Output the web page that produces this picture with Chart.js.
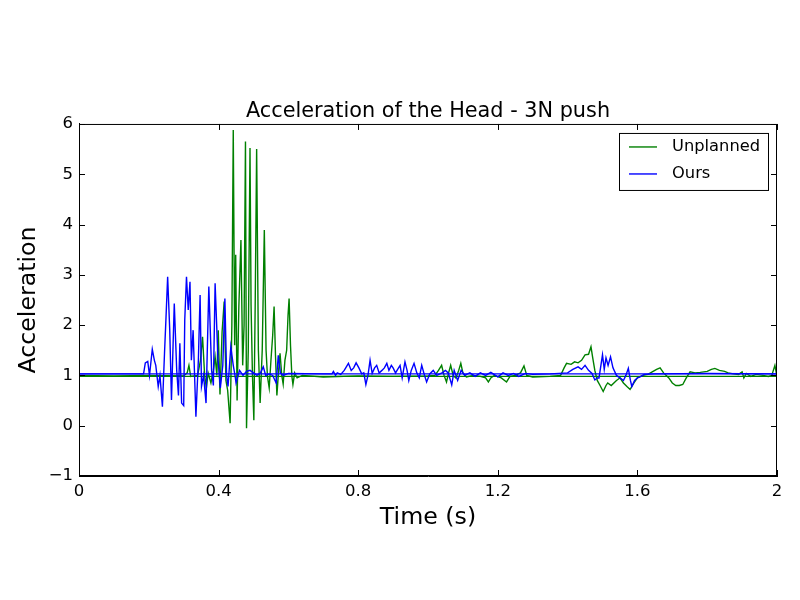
<!DOCTYPE html>
<html lang="en">
<head>
  <meta charset="UTF-8" />
  <title>Acceleration of the Head - 3N push</title>
  <script src="https://cdn.jsdelivr.net/npm/chart.js"></script>
  <style>
    html, body { margin: 0; padding: 0; background: #fff; }
    #wrap { width: 800px; height: 600px; }
  </style>
</head>
<body>
  <div id="wrap"><canvas id="accChart" width="800" height="600"></canvas></div>
  <script>
    // Unplanned (green)
    const unplannedT = [0, 0.1, 0.2, 0.3, 0.31, 0.315, 0.32, 0.34, 0.348, 0.354, 0.36, 0.365, 0.37, 0.378, 0.385,
      0.39, 0.395, 0.399, 0.404, 0.41, 0.416, 0.421, 0.426, 0.433, 0.438, 0.442, 0.446, 0.449, 0.453, 0.458,
      0.464, 0.469, 0.473, 0.477, 0.48, 0.485, 0.49, 0.493, 0.497, 0.501, 0.505, 0.509, 0.514, 0.519, 0.525,
      0.531, 0.536, 0.54, 0.545, 0.55, 0.555, 0.559, 0.563, 0.567, 0.572, 0.576, 0.581, 0.585, 0.59, 0.595,
      0.599, 0.602, 0.606, 0.61, 0.613, 0.618, 0.625, 0.64, 0.7, 0.8, 0.9, 1.0, 1.02, 1.03, 1.039, 1.046,
      1.053, 1.059, 1.065, 1.072, 1.08, 1.088, 1.094, 1.1, 1.11, 1.13, 1.15, 1.165, 1.173, 1.18, 1.19, 1.21,
      1.225, 1.235, 1.25, 1.265, 1.275, 1.283, 1.3, 1.35, 1.38, 1.39, 1.397, 1.41, 1.42, 1.43, 1.44, 1.45,
      1.46, 1.467, 1.472, 1.478, 1.485, 1.493, 1.502, 1.51, 1.515, 1.525, 1.54, 1.55, 1.56, 1.57, 1.579, 1.59,
      1.6, 1.615, 1.63, 1.645, 1.655, 1.665, 1.675, 1.69, 1.7, 1.71, 1.72, 1.73, 1.74, 1.751, 1.765, 1.78,
      1.8, 1.812, 1.822, 1.835, 1.85, 1.86, 1.875, 1.89, 1.9, 1.905, 1.912, 1.925, 1.94, 1.96, 1.975, 1.985,
      1.994, 2.0];
    const unplannedY = [1.0, 0.99, 1.0, 0.99, 1.05, 1.2, 0.98, 1.0, 1.3, 1.77, 1.0, 0.75, 1.05, 0.85, 1.1,
      1.37, 1.0, 1.9, 0.62, 1.87, 2.47, 0.9, 0.7, 0.05, 2.0, 5.88, 1.6, 3.4, 0.5, 2.37,
      3.69, 1.2, 2.0, 5.65, -0.05, 1.5, 5.52, 2.4, 1.0, 0.11, 2.5, 5.5, 1.5, 0.45, 1.5,
      3.89, 1.5, 0.98, 0.75, 1.3, 1.8, 2.37, 1.4, 0.6, 1.1, 1.44, 1.0, 0.83, 1.3, 1.5,
      2.2, 2.53, 1.6, 0.98, 0.82, 1.05, 0.95, 1.0, 0.97, 0.99, 0.98, 0.99, 1.0, 1.1, 1.2, 1.0,
      0.87, 1.05, 1.2, 1.0, 0.95, 1.1, 1.24, 1.05, 0.97, 1.0, 0.98, 0.95, 0.87, 0.95, 1.0, 0.95,
      0.87, 0.98, 1.0, 1.05, 1.19, 1.0, 0.97, 0.98, 1.0, 1.15, 1.24, 1.22, 1.27, 1.25, 1.3, 1.41,
      1.42, 1.57, 1.35, 1.1, 0.9, 0.8, 0.68, 0.8, 0.85, 0.8, 0.9, 0.95, 0.85, 0.78, 0.72, 0.85,
      0.95, 1.0, 1.02, 1.08, 1.12, 1.15, 1.05, 0.95, 0.85, 0.8, 0.8, 0.82, 0.95, 1.07, 1.05, 1.06,
      1.08, 1.12, 1.14, 1.1, 1.08, 1.05, 1.03, 1.02, 1.07, 0.95, 1.04, 0.98, 1.02, 1.0, 0.98, 1.0,
      1.2, 0.97];

    // Ours (blue)
    const oursT = [0, 0.1, 0.185, 0.19, 0.197, 0.202, 0.21, 0.216, 0.22, 0.227, 0.232, 0.239, 0.245, 0.249,
      0.254, 0.26, 0.265, 0.273, 0.28, 0.285, 0.289, 0.294, 0.3, 0.303, 0.308, 0.313, 0.318, 0.322, 0.327,
      0.335, 0.342, 0.347, 0.351, 0.357, 0.364, 0.372, 0.38, 0.385, 0.39, 0.398, 0.405, 0.412, 0.418, 0.423,
      0.427, 0.435, 0.442, 0.447, 0.45, 0.46, 0.47, 0.48, 0.49, 0.5, 0.51, 0.52, 0.528, 0.535, 0.545, 0.555,
      0.565, 0.571, 0.577, 0.585, 0.6, 0.7, 0.725, 0.729, 0.735, 0.74, 0.75, 0.76, 0.772, 0.78, 0.787, 0.794,
      0.802, 0.81, 0.816, 0.822, 0.828, 0.834, 0.84, 0.847, 0.853, 0.86, 0.868, 0.875, 0.882, 0.888, 0.895,
      0.9, 0.907, 0.913, 0.92, 0.926, 0.934, 0.94, 0.945, 0.952, 0.96, 0.968, 0.975, 0.982, 0.99, 0.996,
      1.005, 1.015, 1.025, 1.04, 1.05, 1.058, 1.068, 1.075, 1.085, 1.095, 1.105, 1.12, 1.135, 1.15, 1.165,
      1.18, 1.2, 1.215, 1.23, 1.245, 1.26, 1.28, 1.3, 1.35, 1.4, 1.415, 1.43, 1.44, 1.45, 1.46, 1.47, 1.478,
      1.485, 1.49, 1.5, 1.505, 1.51, 1.516, 1.523, 1.53, 1.54, 1.55, 1.56, 1.567, 1.574, 1.58, 1.584, 1.592,
      1.6, 1.61, 1.62, 1.65, 1.8, 2.0];
    const oursY = [1.03, 1.03, 1.03, 1.25, 1.28, 1.0, 1.52, 1.3, 1.2, 0.78, 1.0, 0.38, 1.44, 2.1,
      2.96, 1.9, 0.51, 2.43, 1.1, 0.6, 1.64, 0.45, 0.4, 2.1, 2.96, 2.3, 2.86, 1.3, 1.9,
      0.18, 1.3, 2.6, 0.78, 1.0, 0.45, 2.77, 1.1, 0.8, 2.83, 1.35, 0.75, 1.2, 2.53, 1.0,
      0.78, 1.57, 1.2, 1.0, 0.85, 1.1, 1.0, 1.08, 1.1, 1.05, 1.0, 1.05, 1.17, 1.0, 1.03, 1.0,
      0.85, 1.4, 1.05, 1.0, 1.04, 1.03, 1.03, 1.08, 1.0, 1.05, 1.02, 1.1, 1.24, 1.1, 1.15, 1.25,
      1.15, 1.03, 1.05, 0.82, 1.0, 1.3, 1.04, 1.15, 1.2, 1.05, 1.1, 1.15, 1.24, 1.1, 1.2,
      1.15, 1.05, 1.12, 1.2, 0.95, 1.27, 1.1, 0.9, 1.1, 1.24, 1.05, 0.95, 1.2, 1.0, 0.87,
      1.03, 1.1, 1.0, 1.05, 1.1, 1.05, 0.81, 1.1, 0.9, 1.1, 1.0, 1.05, 0.98, 1.05, 1.0,
      1.06, 0.97, 1.05, 1.0, 1.04, 0.98, 1.04, 1.02, 1.03, 1.05, 1.12, 1.17, 1.12, 1.2, 1.1, 1.04, 0.91,
      0.95, 0.95, 1.41, 1.12, 1.35, 1.2, 1.37, 1.15, 1.0, 0.95, 0.9, 1.0, 1.14, 0.9, 0.78, 0.9,
      0.95, 0.98, 1.02, 1.03, 1.04, 1.03];

    // steady traces that sit under the oscillations
    const baseT = [0, 2];
    const unplannedBaseY = [0.98, 0.98];
    const oursBaseY = [1.03, 1.03];

    const xTicks = [0, 0.4, 0.8, 1.2, 1.6, 2];
    const yTicks = [-1, 0, 1, 2, 3, 4, 5, 6];

    const legendItems = [
      { label: 'Unplanned', color: '#008000' },
      { label: 'Ours', color: '#0000ff' }
    ];

    function toPoints(ts, ys) {
      return ts.map((t, i) => ({ x: t, y: ys[i] }));
    }

    const frameAndLegend = {
      id: 'frameAndLegend',
      afterDraw(chart) {
        const ctx = chart.ctx;
        const a = chart.chartArea;
        const xs = chart.scales.x, ys = chart.scales.y;
        ctx.save();
        ctx.strokeStyle = '#000';
        ctx.lineWidth = 1;
        ctx.strokeRect(a.left + 0.5, a.top + 0.5, a.right - a.left - 1, a.bottom - a.top - 1);
        // inward ticks on all sides
        ctx.beginPath();
        xTicks.forEach(v => {
          const px = Math.round(xs.getPixelForValue(v)) + 0.5;
          ctx.moveTo(px, a.bottom); ctx.lineTo(px, a.bottom - 6);
          ctx.moveTo(px, a.top); ctx.lineTo(px, a.top + 6);
        });
        yTicks.forEach(v => {
          const py = Math.round(ys.getPixelForValue(v)) + 0.5;
          ctx.moveTo(a.left, py); ctx.lineTo(a.left + 6, py);
          ctx.moveTo(a.right, py); ctx.lineTo(a.right - 6, py);
        });
        ctx.stroke();
        // legend box
        const bx = a.right - 158, by = a.top + 9, bw = 149, bh = 57;
        ctx.fillStyle = '#fff';
        ctx.fillRect(bx, by, bw, bh);
        ctx.strokeRect(bx + 0.5, by + 0.5, bw, bh);
        ctx.font = '16.3px "DejaVu Sans"';
        ctx.textBaseline = 'middle';
        legendItems.forEach((it, i) => {
          const ly = by + 14 + i * 27;
          ctx.strokeStyle = it.color;
          ctx.lineWidth = 1.4;
          ctx.beginPath();
          ctx.moveTo(bx + 10, ly); ctx.lineTo(bx + 38, ly);
          ctx.stroke();
          ctx.fillStyle = '#000';
          ctx.fillText(it.label, bx + 53, ly);
        });
        ctx.restore();
      }
    };

    new Chart(document.getElementById('accChart'), {
      type: 'line',
      data: {
        datasets: [
          { label: 'Unplanned', data: toPoints(unplannedT, unplannedY), borderColor: '#008000', borderWidth: 1.4, order: 2 },
          { label: 'Unplanned base', data: toPoints(baseT, unplannedBaseY), borderColor: '#008000', borderWidth: 1.4, order: 3 },
          { label: 'Ours', data: toPoints(oursT, oursY), borderColor: '#0000ff', borderWidth: 1.4, order: 0 },
          { label: 'Ours base', data: toPoints(baseT, oursBaseY), borderColor: '#0000ff', borderWidth: 1.4, order: 1 }
        ]
      },
      options: {
        responsive: false,
        animation: false,
        events: [],
        elements: { point: { radius: 0 }, line: { tension: 0 } },
        layout: { padding: { top: 99, right: 23, left: 0, bottom: 0 } },
        plugins: {
          legend: { display: false },
          tooltip: { enabled: false },
          title: {
            display: true,
            fullSize: false,
            text: 'Acceleration of the Head - 3N push',
            color: '#000',
            font: { family: 'DejaVu Sans', size: 20.8, weight: 'normal' },
            padding: { top: 0, bottom: 0 }
          }
        },
        scales: {
          x: {
            type: 'linear', min: 0, max: 2,
            afterBuildTicks: s => { s.ticks = xTicks.map(v => ({ value: v })); },
            afterFit: s => { s.height = 124; },
            grid: { display: false, drawTicks: false },
            border: { display: true, color: '#000' },
            ticks: {
              color: '#000', padding: 6, maxRotation: 0,
              font: { family: 'DejaVu Sans', size: 16.5 },
              callback: v => String(v)
            },
            title: {
              display: true, text: 'Time (s)', color: '#000',
              font: { family: 'DejaVu Sans', size: 23.7 },
              padding: { top: 4, bottom: 68 }
            }
          },
          y: {
            type: 'linear', min: -1, max: 6,
            afterBuildTicks: s => { s.ticks = yTicks.map(v => ({ value: v })); },
            afterFit: s => { s.width = 79; },
            grid: { display: false, drawTicks: false },
            border: { display: true, color: '#000' },
            ticks: {
              color: '#000', padding: 6,
              font: { family: 'DejaVu Sans', size: 16.5 },
              callback: v => String(v).replace('-', '\u2212')
            },
            title: {
              display: true, text: 'Acceleration', color: '#000',
              font: { family: 'DejaVu Sans', size: 23.7 },
              padding: { top: 15, bottom: 0 }
            }
          }
        }
      },
      plugins: [frameAndLegend]
    });
  </script>
</body>
</html>
